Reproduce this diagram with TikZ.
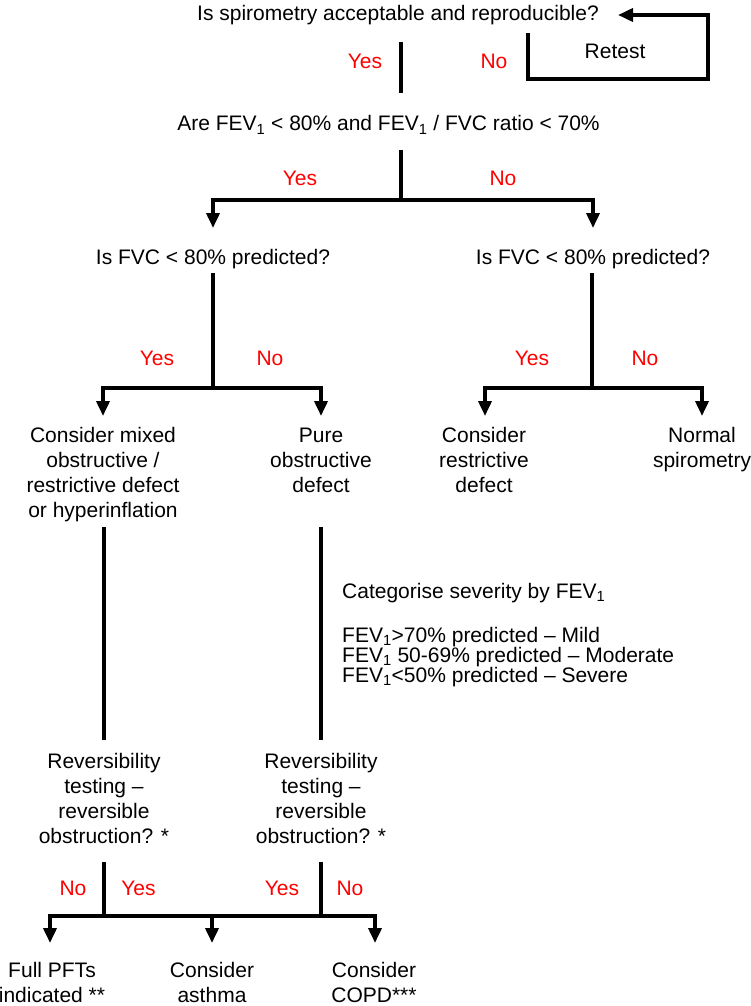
\documentclass[tikz,border=0pt]{standalone}
\usepackage{fontspec}
\setmainfont{Liberation Sans}
\usetikzlibrary{arrows.meta}
\definecolor{lblred}{RGB}{255,0,0}
\tikzset{
  txt/.style={inner sep=0pt, anchor=base, align=center, font=\fontsize{21}{25}\selectfont},
  lbl/.style={txt, text=lblred},
  conn/.style={line width=3.6pt, line join=miter},
  arr/.style={conn, -{Triangle[length=15pt,width=13pt]}},
}
\begin{document}
\begin{tikzpicture}[x=1pt,y=-1pt]
\useasboundingbox (0,0) rectangle (751,1006);
\fill[white] (0,0) rectangle (751,1006);

% --- level 1
\node[txt] (q1) at (398,21) {Is spirometry acceptable and reproducible?};
\node[txt] (retest) at (615,59) {Retest};
\node[lbl] (y1) at (365,68.5) {Yes};
\node[lbl] (n1) at (494,68.5) {No};
\coordinate (c1t) at (401,42);
\coordinate (c1b) at (401,93);
\draw[conn] (c1t) -- (c1b);
\coordinate (r0) at (528,33);
\coordinate (rc) at (708,79);
\coordinate (r3) at (618,15);
\draw[arr] (r0) |- (rc) |- (r3);

% --- level 2
\node[txt] (q2) at (388.5,131) {Are FEV\textsubscript{1} < 80\% and FEV\textsubscript{1} / FVC ratio < 70\%};
\coordinate (c2t) at (401,150);
\coordinate (j2) at (401,200);
\coordinate (a2L) at (213,228);
\coordinate (a2R) at (593,228);
\draw[conn] (c2t) -- (j2);
\draw[arr] (j2) -| (a2L);
\draw[arr] (j2) -| (a2R);
\node[lbl] (y2) at (300,185.5) {Yes};
\node[lbl] (n2) at (503,185.5) {No};

% --- level 3
\node[txt] (q3L) at (213,264.5) {Is FVC < 80\% predicted?};
\node[txt] (q3R) at (593,264.5) {Is FVC < 80\% predicted?};
\coordinate (c3Lt) at (213,273);
\coordinate (j3L) at (213,388);
\coordinate (a3LL) at (103,416);
\coordinate (a3LR) at (321,416);
\draw[conn] (c3Lt) -- (j3L);
\draw[arr] (j3L) -| (a3LL);
\draw[arr] (j3L) -| (a3LR);
\coordinate (c3Rt) at (592,273);
\coordinate (j3R) at (592,388);
\coordinate (a3RL) at (485,416);
\coordinate (a3RR) at (702,416);
\draw[conn] (c3Rt) -- (j3R);
\draw[arr] (j3R) -| (a3RL);
\draw[arr] (j3R) -| (a3RR);
\node[lbl] (y3L) at (157,365.5) {Yes};
\node[lbl] (n3L) at (270,365.5) {No};
\node[lbl] (y3R) at (532,365.5) {Yes};
\node[lbl] (n3R) at (645,365.5) {No};

% --- level 4 (base anchor = last line's baseline)
\node[txt] (mixed) at (103,517.5) {Consider mixed\\obstructive /\\restrictive defect\\or hyperinflation};
\node[txt] (pure) at (321,492.5) {Pure\\obstructive\\defect};
\node[txt] (restr) at (484,492.5) {Consider\\restrictive\\defect};
\node[txt] (normal) at (702,467.5) {Normal\\spirometry};
\coordinate (c4Lt) at (104,527);
\coordinate (c4Lb) at (104,740);
\coordinate (c4Rt) at (321,527);
\coordinate (c4Rb) at (321,740);
\draw[conn] (c4Lt) -- (c4Lb);
\draw[conn] (c4Rt) -- (c4Rb);

\node[txt, align=left, anchor=base west] (sev) at (342,598) {Categorise severity by FEV\textsubscript{1}};
\node[txt, align=left, anchor=base west, font=\fontsize{21}{20}\selectfont] (sevlist) at (342,682)
  {FEV\textsubscript{1}>70\% predicted – Mild\\FEV\textsubscript{1} 50-69\% predicted – Moderate\\FEV\textsubscript{1}<50\% predicted – Severe};

% --- level 5
\node[txt] (revL) at (104,843) {Reversibility\\testing –\\reversible\\obstruction? *};
\node[txt] (revR) at (321,843) {Reversibility\\testing –\\reversible\\obstruction? *};
\coordinate (c5Lt) at (104,862);
\coordinate (j5L) at (104,916);
\coordinate (c5Rt) at (321,862);
\coordinate (j5R) at (321,916);
\coordinate (j5M) at (212,916);
\coordinate (a5L) at (50,943);
\coordinate (a5M) at (212,943);
\coordinate (a5R) at (375,943);
\draw[conn] (c5Lt) -- (j5L);
\draw[conn] (c5Rt) -- (j5R);
\draw[conn] (j5L) -- (j5R);
\draw[arr] (j5L) -| (a5L);
\draw[arr] (j5R) -| (a5R);
\draw[arr] (j5M) -- (a5M);
\node[lbl] (n5L) at (73,895.5) {No};
\node[lbl] (y5L) at (138.5,895.5) {Yes};
\node[lbl] (y5R) at (282,895.5) {Yes};
\node[lbl] (n5R) at (350,895.5) {No};

% --- outcomes
\node[txt] (pft) at (52,1002) {Full PFTs\\indicated **};
\node[txt] (asthma) at (212,1002) {Consider\\asthma};
\node[txt] (copd) at (374,1002) {Consider\\COPD***};
\end{tikzpicture}
\end{document}
